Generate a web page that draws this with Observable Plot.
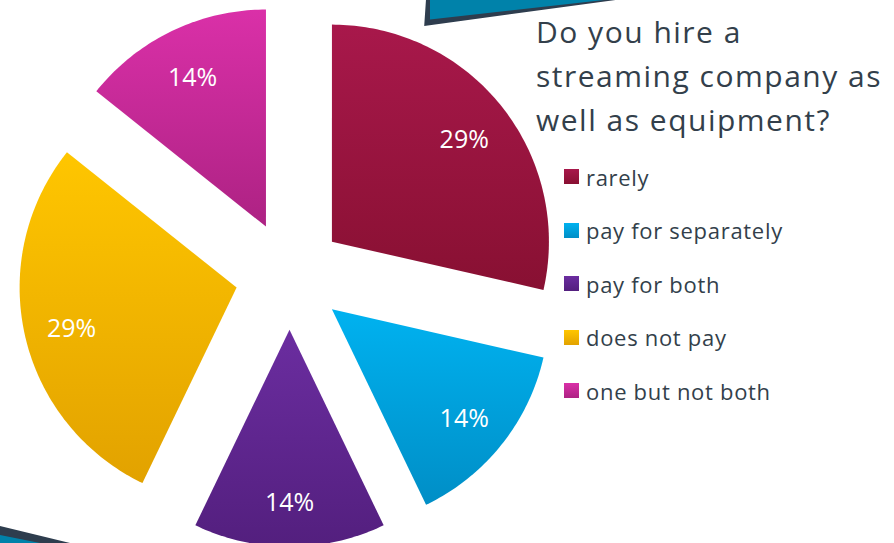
<!DOCTYPE html>
<html>
<head>
<meta charset="utf-8">
<script src="https://cdn.jsdelivr.net/npm/d3@7"></script>
<script src="https://cdn.jsdelivr.net/npm/@observablehq/plot@0.6"></script>
<style>
  html, body { margin: 0; padding: 0; background: #ffffff; }
  #wrap { position: relative; width: 894px; height: 543px; overflow: hidden; font-family: "Open Sans", "Noto Sans", sans-serif; }
  #chart { position: absolute; left: 0; top: 0; }
  #title { position: absolute; left: 536px; top: 10px; font-size: 30px; line-height: 44px; letter-spacing: 1.5px; color: #333f4b; white-space: nowrap; }
  #legend { position: absolute; left: 564px; top: 150px; }
  .item { display: flex; align-items: center; height: 53.5px; font-size: 22px; letter-spacing: 0.7px; color: #333f4b; white-space: nowrap; }
  .sw { width: 15px; height: 15px; margin-right: 7px; flex: none; }
  .deco1 { position: absolute; left: 422px; top: -10px; width: 220px; height: 40px; background: #2e3d4e;
           clip-path: polygon(2% 0%, 100% 0%, 100% 16%, 1% 90%, 1.8% 25%); }
  .deco1b { position: absolute; left: 430px; top: -10px; width: 210px; height: 30px; background: #0082aa;
           clip-path: polygon(0% 0%, 100% 0%, 100% 20%, 0% 98%); }
  .deco2 { position: absolute; left: 0px; top: 526px; width: 70px; height: 17px; background: #2e3d4e;
           clip-path: polygon(0% 0%, 100% 100%, 0% 100%); }
  .deco2b { position: absolute; left: 0px; top: 535px; width: 40px; height: 8px; background: #0082aa;
           clip-path: polygon(0% 0%, 100% 100%, 0% 100%); }
</style>
</head>
<body>
<div id="wrap">
  <div id="chart"></div>
  <div class="deco1"></div>
  <div class="deco1b"></div>
  <div class="deco2"></div>
  <div class="deco2b"></div>
  <div id="title">Do you hire a<br>streaming company as<br>well as equipment?</div>
  <div id="legend"></div>
</div>
<script>
// ---- data ----
const categories = ["rarely", "pay for separately", "pay for both", "does not pay", "one but not both"];
const values = [2, 1, 1, 2, 1];
const labels = ["29%", "14%", "14%", "29%", "14%"];
const colorsTop = ["#a8184b", "#00b2f0", "#6b2da0", "#ffc600", "#da30a8"];
const colorsBottom = ["#881032", "#008ec6", "#531f7e", "#e2a200", "#ad2283"];

// ---- layout (unit radius) ----
const explode = 0.25;
const labelR = 0.78;
const pie = d3.pie().sort(null).startAngle(0).endAngle(2 * Math.PI)(values);

const slices = pie.map((p, i) => {
  const mid = (p.startAngle + p.endAngle) / 2;
  const ox = explode * Math.sin(mid), oy = explode * Math.cos(mid);
  const pts = [{x: ox, y: oy}];
  const n = Math.max(8, Math.ceil((p.endAngle - p.startAngle) / (Math.PI / 180)));
  for (let k = 0; k <= n; k++) {
    const a = p.startAngle + (p.endAngle - p.startAngle) * k / n;
    pts.push({x: ox + Math.sin(a), y: oy + Math.cos(a)});
  }
  pts.push({x: ox, y: oy});
  return {i, category: categories[i], pts,
          lx: ox + labelR * Math.sin(mid), ly: oy + labelR * Math.cos(mid), label: labels[i]};
});

const marks = slices.map(s => Plot.line(s.pts, {
  x: "x", y: "y", fill: `url(#grad${s.i})`, stroke: "none", curve: "linear",
  style: "filter: drop-shadow(2px 3px 2.5px rgba(0,0,0,0.35))"
}));
marks.push(Plot.text(slices, {
  x: "lx", y: "ly", text: "label", fill: "white", fontSize: 25, dy: 4,
  fontFamily: "'Open Sans', 'Noto Sans', sans-serif",
  style: "letter-spacing: 1px; font-variant-numeric: oldstyle-nums;"
}));

const chart = Plot.plot({
  width: 894,
  height: 543,
  margin: 0,
  x: {domain: [-1.3318, 2.788], axis: null},
  y: {domain: [-1.235, 1.267], axis: null},
  marks
});

// gradients
const ns = "http://www.w3.org/2000/svg";
const defs = document.createElementNS(ns, "defs");
colorsTop.forEach((c, i) => {
  const g = document.createElementNS(ns, "linearGradient");
  g.setAttribute("id", "grad" + i);
  g.setAttribute("x1", "0"); g.setAttribute("y1", "0");
  g.setAttribute("x2", "0"); g.setAttribute("y2", "1");
  const s1 = document.createElementNS(ns, "stop");
  s1.setAttribute("offset", "0"); s1.setAttribute("stop-color", c);
  const s2 = document.createElementNS(ns, "stop");
  s2.setAttribute("offset", "1"); s2.setAttribute("stop-color", colorsBottom[i]);
  g.appendChild(s1); g.appendChild(s2);
  defs.appendChild(g);
});
chart.insertBefore(defs, chart.firstChild);
document.getElementById("chart").appendChild(chart);

// legend
const legend = document.getElementById("legend");
categories.forEach((c, i) => {
  const row = document.createElement("div");
  row.className = "item";
  const sw = document.createElement("span");
  sw.className = "sw";
  sw.style.background = `linear-gradient(${colorsTop[i]}, ${colorsBottom[i]})`;
  const t = document.createElement("span");
  t.textContent = c;
  row.appendChild(sw); row.appendChild(t);
  legend.appendChild(row);
});
</script>
</body>
</html>
